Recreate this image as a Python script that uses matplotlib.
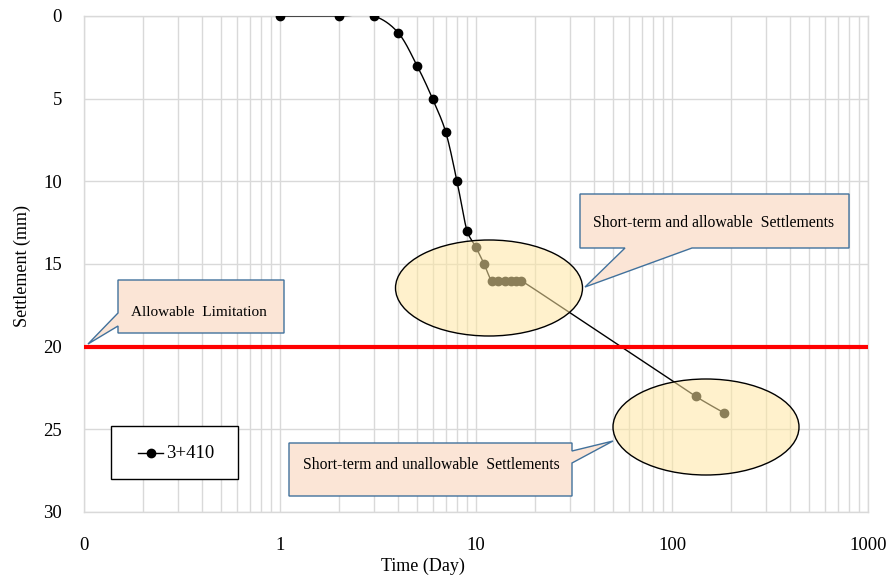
import numpy as np
import matplotlib
matplotlib.use("Agg")
import matplotlib.pyplot as plt
from matplotlib.patches import Ellipse, Polygon, Rectangle
from matplotlib.lines import Line2D
from matplotlib.ticker import FixedLocator, FixedFormatter, LogLocator, NullFormatter

# ---- data ----
days = [1, 2, 3, 4, 5, 6, 7, 8, 9, 10, 11, 12, 13, 14, 15, 16, 17, 132, 184]
settlement = [0, 0, 0, 1, 3, 5, 7, 10, 13, 14, 15, 16, 16, 16, 16, 16, 16, 23, 24]
series_name = "3+410"
x_ticks = [0.1, 1, 10, 100, 1000]
x_tick_labels = ["0", "1", "10", "100", "1000"]
y_ticks = [0, 5, 10, 15, 20, 25, 30]
limit_value = 20

plt.rcParams['font.family'] = ['Liberation Serif', 'DejaVu Serif']

W, H = 891, 578
fig = plt.figure(figsize=(W / 100, H / 100), dpi=100)

def fx(px):
    return px / W

def fy(py):
    return 1 - py / H

def P(px, py):
    return (fx(px), fy(py))

ax_l, ax_r, ax_t, ax_b = 84, 868, 16, 512
ax = fig.add_axes([fx(ax_l), fy(ax_b), fx(ax_r) - fx(ax_l), fy(ax_t) - fy(ax_b)])
ax.set_xscale('log')
ax.set_xlim(0.1, 1000)
ax.set_ylim(30, 0)

grid_c = '#d9d9d9'
ax.xaxis.set_major_locator(FixedLocator(x_ticks))
ax.xaxis.set_major_formatter(FixedFormatter(x_tick_labels))
ax.xaxis.set_minor_locator(LogLocator(base=10, subs=np.arange(2, 10)))
ax.xaxis.set_minor_formatter(NullFormatter())
ax.set_yticks(y_ticks)
ax.grid(True, which='both', axis='x', color=grid_c, lw=1.0)
ax.grid(True, which='major', axis='y', color=grid_c, lw=1.0)
ax.set_axisbelow(True)
for s in ax.spines.values():
    s.set_color(grid_c)
    s.set_linewidth(1.0)
ax.tick_params(which='both', length=0, labelsize=13.5, colors='black')
ax.tick_params(axis='x', pad=18)
ax.tick_params(axis='y', pad=16)

# ---- smoothed line (Excel-like Bezier in display-proportional space) ----
scale_y = 16.53 / 196.0
u = np.log10(np.array(days, float))
v = np.array(settlement, float) * scale_y
pts = np.column_stack([u, v])
n = len(pts)
curve = []
t = np.linspace(0, 1, 30)

def clamp(d, L):
    m = np.hypot(*d)
    lim = L / 3.0
    return d * (lim / m) if m > lim and m > 0 else d

for i in range(n - 1):
    p0 = pts[i]
    p3 = pts[i + 1]
    pm = pts[i - 1] if i > 0 else pts[i]
    pp = pts[i + 2] if i + 2 < n else pts[i + 1]
    L = np.hypot(*(p3 - p0))
    c1 = p0 + clamp((p3 - pm) / 6.0, L)
    c2 = p3 - clamp((pp - p0) / 6.0, L)
    seg = ((1 - t) ** 3)[:, None] * p0 + (3 * (1 - t) ** 2 * t)[:, None] * c1 + \
          (3 * (1 - t) * t ** 2)[:, None] * c2 + (t ** 3)[:, None] * p3
    curve.append(seg if i == 0 else seg[1:])
curve = np.vstack(curve)
ax.plot(10 ** curve[:, 0], curve[:, 1] / scale_y, color='black', lw=1.0, zorder=3)
ax.plot(days, settlement, 'o', color='black', ms=6, zorder=4)

# limit line
ax.axhline(limit_value, color='#ff0000', lw=3, zorder=5)

# ---- ellipses (axes fraction) ----
def ellipse_axes(cx, cy, w, h):
    ca = ((cx - ax_l) / (ax_r - ax_l), 1 - (cy - ax_t) / (ax_b - ax_t))
    wa = w / (ax_r - ax_l)
    ha = h / (ax_b - ax_t)
    e = Ellipse(ca, wa, ha, transform=ax.transAxes, facecolor=(1.0, 0.906, 0.635, 0.55),
                edgecolor='black', lw=1.0, zorder=6, clip_on=False)
    ax.add_patch(e)

ellipse_axes(489, 288, 187, 96)
ellipse_axes(706, 427, 186, 96)

# ---- callouts (figure pixel coordinates) ----
fill_c = '#fbe5d6'
edge_c = '#41719c'

def callout(verts):
    poly = Polygon([P(*p) for p in verts], closed=True, transform=fig.transFigure,
                   facecolor=fill_c, edgecolor=edge_c, lw=1.0, zorder=10)
    fig.patches.append(poly)

# Allowable Limitation: box (118,280)-(284,333), tail on left edge
callout([(118, 280), (284, 280), (284, 333), (118, 333), (118, 326), (88, 344), (118, 313)])
fig.text(fx(131), fy(312), "Allowable  Limitation", fontsize=11, va='center', ha='left', zorder=11)

# Short-term and allowable: box (580,194)-(849,248), tail on bottom edge
callout([(580, 194), (849, 194), (849, 248), (692, 248), (585, 287), (625, 248), (580, 248)])
fig.text(fx(593), fy(223), "Short-term and allowable  Settlements", fontsize=11.3, va='center', ha='left', zorder=11)

# Short-term and unallowable: box (289,443)-(572,496), tail on right edge
callout([(289, 443), (572, 443), (572, 451), (613, 441), (572, 463), (572, 496), (289, 496)])
fig.text(fx(303), fy(465), "Short-term and unallowable  Settlements", fontsize=11.3, va='center', ha='left', zorder=11)

# ---- legend box ----
fig.patches.append(Rectangle(P(111, 479), fx(238) - fx(111), fy(426) - fy(479), transform=fig.transFigure,
                             facecolor='white', edgecolor='black', lw=1.0, zorder=10))
fig.lines.append(Line2D([fx(138), fx(163)], [fy(453), fy(453)], transform=fig.transFigure,
                        color='black', lw=1.0, zorder=11))
fig.lines.append(Line2D([fx(151)], [fy(453)], transform=fig.transFigure, color='black',
                        marker='o', ms=6, lw=0, zorder=11))
fig.text(fx(166), fy(453), series_name, fontsize=13.5, va='center', ha='left', zorder=11)

# ---- axis labels ----
fig.text(fx(423), fy(566), "Time (Day)", fontsize=13, ha='center', va='center')
fig.text(fx(22), fy(266), "Settlement (mm)", fontsize=13, ha='center', va='center', rotation=90)

fig.savefig("out.png", dpi=100)
